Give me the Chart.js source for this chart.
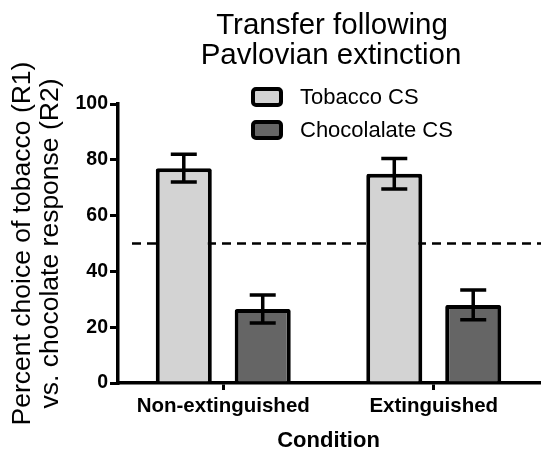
<!DOCTYPE html>
<html>
<head>
<meta charset="utf-8">
<script src="https://cdn.jsdelivr.net/npm/chart.js@4.4.1/dist/chart.umd.min.js"></script>
<style>
  body { margin: 0; background: #fff; }
  #wrap { width: 541px; height: 451px; }
</style>
</head>
<body>
<div id="wrap"><canvas id="chart" width="541" height="451"></canvas></div>
<script>
const condiciones = ["Non-extinguished", "Extinguished"];
const tabacoMedia = [77, 75];
const tabacoError = [5, 5.5];
const chocolateMedia = [26.5, 28];
const chocolateError = [5, 5.3];
const yTicks = [0, 20, 40, 60, 80, 100];
const nivelAzar = 50;

const serieNombres = ["Tobacco CS", "Chocolalate CS"];
const serieColores = ["#d3d3d3", "#656565"];
const tituloLineas = ["Transfer following", "Pavlovian extinction"];

const FUENTE = "'Liberation Sans', Arial, sans-serif";

// dashed line at chance level, behind the bars
const lineaAzar = {
  id: "lineaAzar",
  beforeDatasetsDraw(chart) {
    const { ctx, chartArea, scales } = chart;
    const y = scales.y.getPixelForValue(nivelAzar);
    ctx.save();
    ctx.strokeStyle = "#000";
    ctx.lineWidth = 2.5;
    ctx.setLineDash([9, 6]);
    ctx.beginPath();
    ctx.moveTo(chartArea.left + 14, y);
    ctx.lineTo(chart.width, y);
    ctx.stroke();
    ctx.restore();
  }
};

// SEM error bars
const barrasError = {
  id: "barrasError",
  afterDatasetsDraw(chart) {
    const { ctx, scales } = chart;
    const errores = [tabacoError, chocolateError];
    ctx.save();
    ctx.strokeStyle = "#000";
    ctx.lineWidth = 3.5;
    chart.data.datasets.forEach((ds, i) => {
      const meta = chart.getDatasetMeta(i);
      meta.data.forEach((bar, j) => {
        const v = ds.data[j];
        const e = errores[i][j];
        const yTop = scales.y.getPixelForValue(v + e);
        const yBot = scales.y.getPixelForValue(v - e);
        const x = bar.x;
        const w = 13;
        ctx.beginPath();
        ctx.moveTo(x, yTop); ctx.lineTo(x, yBot);
        ctx.moveTo(x - w, yTop); ctx.lineTo(x + w, yTop);
        ctx.moveTo(x - w, yBot); ctx.lineTo(x + w, yBot);
        ctx.stroke();
      });
    });
    ctx.restore();
  }
};

// title + vertical legend
const tituloLeyenda = {
  id: "tituloLeyenda",
  afterDraw(chart) {
    const { ctx } = chart;
    ctx.save();
    ctx.fillStyle = "#000";
    ctx.textAlign = "center";
    ctx.textBaseline = "middle";
    ctx.font = "29.5px " + FUENTE;
    ctx.fillText(tituloLineas[0], 332, 26);
    ctx.fillText(tituloLineas[1], 331, 56);

    ctx.textAlign = "left";
    ctx.font = "22px " + FUENTE;
    serieNombres.forEach((nombre, i) => {
      const yc = 97 + i * 33;
      ctx.beginPath();
      ctx.roundRect(253, yc - 8, 28, 16, 3);
      ctx.fillStyle = serieColores[i];
      ctx.fill();
      ctx.lineWidth = 4;
      ctx.strokeStyle = "#000";
      ctx.stroke();
      ctx.fillStyle = "#000";
      ctx.fillText(nombre, 300, yc + 1);
    });
    ctx.restore();
  }
};

function crearDatasets() {
  const medias = [tabacoMedia, chocolateMedia];
  return serieNombres.map((nombre, i) => ({
    label: nombre,
    data: medias[i],
    backgroundColor: serieColores[i],
    borderColor: "#000",
    borderWidth: 4,
    borderRadius: 2,
    categoryPercentage: 0.75,
    barPercentage: 0.71
  }));
}

new Chart(document.getElementById("chart"), {
  type: "bar",
  data: { labels: condiciones, datasets: crearDatasets() },
  plugins: [lineaAzar, barrasError, tituloLeyenda],
  options: {
    responsive: false,
    animation: false,
    layout: { padding: { top: 104, right: 2, left: 0, bottom: 0 } },
    plugins: {
      legend: { display: false },
      title: { display: false },
      tooltip: { enabled: false }
    },
    scales: {
      x: {
        grid: {
          offset: false,
          drawOnChartArea: false,
          drawTicks: true,
          tickLength: 7,
          color: "#000",
          lineWidth: 3
        },
        border: { display: true, color: "#000", width: 3.5 },
        ticks: {
          color: "#000",
          padding: 4,
          maxRotation: 0,
          font: { family: FUENTE, size: 20.5, weight: "bold" }
        },
        title: {
          display: true,
          text: "Condition",
          color: "#000",
          padding: { top: 0, bottom: -1 },
          font: { family: FUENTE, size: 22, weight: "bold", lineHeight: 1 }
        },
        afterFit(scale) { scale.height = 68; }
      },
      y: {
        min: 0,
        max: 100,
        afterBuildTicks(scale) { scale.ticks = yTicks.map(v => ({ value: v })); },
        grid: {
          drawOnChartArea: false,
          drawTicks: true,
          tickLength: 8,
          color: "#000",
          lineWidth: 3
        },
        border: { display: true, color: "#000", width: 3.5 },
        ticks: {
          color: "#000",
          padding: 2,
          font: { family: FUENTE, size: 19.5, weight: "bold" }
        },
        title: {
          display: true,
          text: ["Percent choice of tobacco (R1)", "vs. chocolate response (R2)"],
          color: "#000",
          padding: { top: 9, bottom: 0 },
          font: { family: FUENTE, size: 26.5, lineHeight: 1.04 }
        },
        afterFit(scale) { scale.width = 118; }
      }
    }
  }
});
</script>
</body>
</html>
